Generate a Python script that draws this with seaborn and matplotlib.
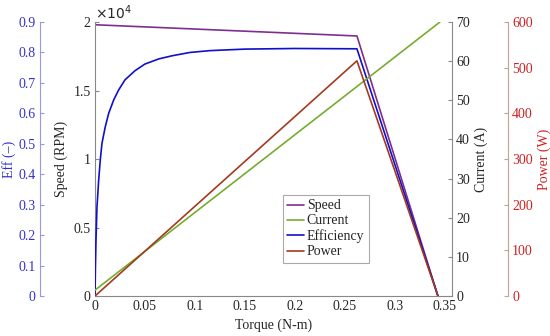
import numpy as np
import pandas as pd
import seaborn as sns
import matplotlib.pyplot as plt
from matplotlib.ticker import FuncFormatter

# torque points (N-m) and readings taken from the curves
torque_lin = [0.0, 0.262, 0.343]
speed = [19800, 18980, 0]          # RPM
power = [0, 515, 0]                # W
torque_cur = [0.0, 0.345]
current = [1.5, 70]                # A
torque_eff = [0.0, 0.0004, 0.001, 0.002, 0.0037, 0.0053, 0.007, 0.0103,
              0.0137, 0.0187, 0.0237, 0.030, 0.040, 0.050, 0.064, 0.077,
              0.095, 0.115, 0.15, 0.2, 0.262, 0.343]
eff = [0.0, 0.09, 0.184, 0.293, 0.381, 0.447, 0.502, 0.556,
       0.600, 0.644, 0.677, 0.71, 0.74, 0.762, 0.779, 0.789,
       0.800, 0.806, 0.811, 0.813, 0.812, 0.0]

sns.set_style("white")
plt.rcParams['font.family'] = ['Liberation Serif', 'DejaVu Serif']
plt.rcParams['font.size'] = 10

c_speed = '#7E2F8E'
c_cur = '#77AC30'
c_eff = '#1010C8'
c_pow = '#A33A1F'

fig = plt.figure(figsize=(5.5, 3.36), dpi=100)
ax = fig.add_axes([0.1727, 0.119, 0.649, 0.8155])
ax_e = ax.twinx()
ax_c = ax.twinx()
ax_p = ax.twinx()

df_lin = pd.DataFrame({'T': torque_lin, 'speed': speed, 'power': power})
df_cur = pd.DataFrame({'T': torque_cur, 'current': current})
df_eff = pd.DataFrame({'T': torque_eff, 'eff': eff})

sns.lineplot(data=df_lin, x='T', y='speed', ax=ax, color=c_speed, lw=1.2, label='Speed', legend=False)
sns.lineplot(data=df_eff, x='T', y='eff', ax=ax_e, color=c_eff, lw=1.2, label='Efficiency', legend=False)
sns.lineplot(data=df_cur, x='T', y='current', ax=ax_c, color=c_cur, lw=1.2, label='Current', legend=False)
sns.lineplot(data=df_lin, x='T', y='power', ax=ax_p, color=c_pow, lw=1.2, label='Power', legend=False)

gray = '#888888'
ax.set_xlim(0, 0.357)
ax.set_ylim(0, 20000)
ax.set_xticks([0, 0.05, 0.1, 0.15, 0.2, 0.25, 0.3, 0.35])
ax.xaxis.set_major_formatter(FuncFormatter(lambda v, p: '%g' % round(v, 3)))
ax.set_yticks([0, 5000, 10000, 15000, 20000])
ax.yaxis.set_major_formatter(FuncFormatter(lambda v, p: '%g' % (v / 1e4)))
ax.set_xlabel('Torque (N-m)')
ax.set_ylabel('Speed (RPM)', labelpad=4)
ax.text(0.0, 1.01, r'$\times10^4$', transform=ax.transAxes, fontsize=10)
for s in ['top', 'right']:
    ax.spines[s].set_visible(False)
for s in ['left', 'bottom']:
    ax.spines[s].set_color(gray)
    ax.spines[s].set_linewidth(0.8)
ax.tick_params(direction='in', length=3, color=gray, pad=3)

# efficiency axis, far left
ax_e.set_ylim(0, 0.9)
ax_e.set_yticks(np.arange(0, 0.91, 0.1))
ax_e.yaxis.set_major_formatter(FuncFormatter(lambda v, p: '%g' % round(v, 2)))
ax_e.yaxis.tick_left()
ax_e.yaxis.set_label_position('left')
for s in ['top', 'right', 'bottom']:
    ax_e.spines[s].set_visible(False)
ax_e.spines['left'].set_position(('axes', -0.154))
ax_e.spines['left'].set_color('#9999DD')
ax_e.tick_params(axis='y', direction='in', length=3, colors='#3333CC', pad=3)
ax_e.tick_params(axis='y', color='#9999DD')
ax_e.set_ylabel('Eff (–)', color='#3333CC', labelpad=2)

# current axis, right of box
ax_c.set_ylim(0, 70)
ax_c.set_yticks(range(0, 71, 10))
for s in ['top', 'left', 'bottom']:
    ax_c.spines[s].set_visible(False)
ax_c.spines['right'].set_color(gray)
ax_c.spines['right'].set_linewidth(0.8)
ax_c.tick_params(axis='y', direction='in', length=3, color=gray, pad=3)
ax_c.set_ylabel('Current (A)', labelpad=3)

# power axis, far right
ax_p.set_ylim(0, 600)
ax_p.set_yticks(range(0, 601, 100))
for s in ['top', 'left', 'bottom']:
    ax_p.spines[s].set_visible(False)
ax_p.spines['right'].set_position(('axes', 1.157))
ax_p.spines['right'].set_color('#C8A090')
ax_p.tick_params(axis='y', direction='in', length=3, colors='#CC2222', pad=3)
ax_p.tick_params(axis='y', color='#C8A090')
ax_p.set_ylabel('Power (W)', color='#CC2222', labelpad=3)

handles = [ax.lines[0], ax_c.lines[0], ax_e.lines[0], ax_p.lines[0]]
labels = ['Speed', 'Current', 'Efficiency', 'Power']
leg = ax_p.legend(handles, labels, loc='center', bbox_to_anchor=(0.647, 0.245),
                  handlelength=1.2, handletextpad=0.2, borderpad=0.3, labelspacing=0.15,
                  fancybox=False, framealpha=1, edgecolor='#AAAAAA', fontsize=10)
leg.get_frame().set_linewidth(0.8)

fig.savefig('out.png', dpi=100)
